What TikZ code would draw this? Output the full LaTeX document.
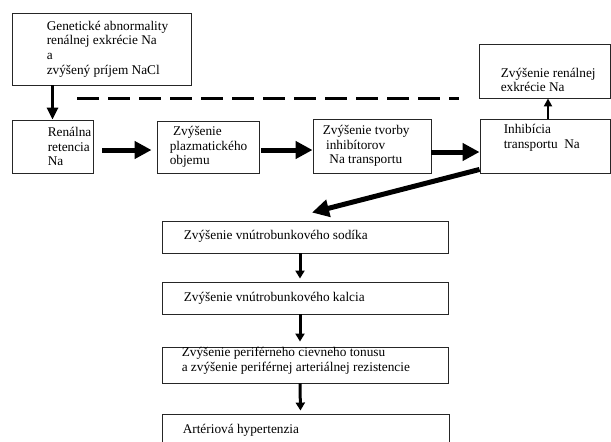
\documentclass[tikz,border=0pt]{standalone}
\usepackage{fontspec}
\setmainfont{Liberation Serif}
\usetikzlibrary{arrows.meta,positioning}

\begin{document}
\begin{tikzpicture}[
    x=1pt, y=-1pt,
    box/.style={draw=black!85, line width=0.9pt, inner sep=0pt},
    txt/.style={font=\fontsize{13.3}{14.7}\selectfont, align=left, inner sep=0pt, anchor=west},
    fat/.style={-{Triangle[length=17pt,width=17pt]}, line width=5pt},
    down/.style={-{Triangle[length=12pt,width=11pt]}, line width=3.5pt},
    drop/.style={-{Triangle[length=8pt,width=9pt]}, line width=3pt},
    slim/.style={-{Triangle[length=8pt,width=8pt]}, line width=2.5pt},
    dashline/.style={line width=3pt, dash pattern=on 22pt off 9pt}
]
\clip (0,0) rectangle (611,442);

% upper part
\node[box, minimum width=179pt, minimum height=72pt] (gen) at (101.5,49) {};
\node[txt] at ([xshift=35pt]gen.west) {Genetické abnormality\\renálnej exkrécie Na\\a\\zvýšený príjem NaCl};
\node[box, minimum width=131pt, minimum height=54pt] (exkr) at (544.5,71) {};
\node[txt] at ([xshift=22pt,yshift=-9pt]exkr.west) {Zvýšenie renálnej\\exkrécie Na};

% row of four boxes
\node[box, minimum width=81pt, minimum height=53pt] (ren) at (52.5,146.5) {};
\node[txt] at ([xshift=36pt]ren.west) {Renálna\\retencia\\Na};
\node[box, minimum width=102pt, minimum height=52pt] (plaz) at (208,147) {};
\node[txt] at ([xshift=13pt]plaz.west) {\ Zvýšenie\\plazmatického\\objemu};
\node[box, minimum width=118pt, minimum height=54pt] (tvor) at (372,146) {};
\node[txt] at ([xshift=10pt]tvor.west) {Zvýšenie tvorby\\\ inhibítorov\\\ \ Na transportu};
\node[box, minimum width=130pt, minimum height=54pt] (inh) at (545,146) {};
\node[txt] at ([xshift=24pt,yshift=8pt]inh.west) {Inhibícia\\transportu\ \ Na};

% column below
\node[box, minimum width=286pt, minimum height=32pt] (sod) at (305,237) {};
\node[txt] at ([xshift=22pt,yshift=1pt]sod.west) {Zvýšenie vnútrobunkového sodíka};
\node[box, minimum width=286pt, minimum height=32pt] (kal) at (305,298) {};
\node[txt] at ([xshift=22pt]kal.west) {Zvýšenie vnútrobunkového kalcia};
\node[box, minimum width=286pt, minimum height=36pt] (ton) at (305,365) {};
\node[txt] at ([xshift=20pt,yshift=4pt]ton.west) {Zvýšenie periférneho cievneho tonusu\\a zvýšenie periférnej arteriálnej rezistencie};
\node[box, minimum width=287pt, minimum height=36pt] (art) at (305.5,432) {};
\node[txt] at ([xshift=21pt,yshift=2pt]art.west) {Artériová hypertenzia};

% arrows
\draw[down] (gen.south -| ren.north) -- (ren.north);
\draw[dashline] ([xshift=24.5pt]ren.north |- exkr.south) -- ([xshift=-20pt]exkr.south west);
\draw[fat, shorten <=9pt, shorten >=5pt] ([yshift=-3.5pt]ren.east) -- ([yshift=-3.5pt]ren.east -| plaz.west);
\draw[fat, shorten <=2pt] ([yshift=-3pt]plaz.east) -- ([yshift=-3pt]plaz.east -| tvor.west);
\draw[fat] ([yshift=-6pt]tvor.east) -- ([yshift=-6pt]tvor.east -| inh.west);
\draw[slim] ([xshift=3pt]inh.north) -- ([xshift=3pt]inh.north |- exkr.south);
\draw[fat] ([yshift=4pt]inh.south west) -- ([xshift=7pt,yshift=8pt]sod.north);
\draw[drop, shorten >=3pt] ([xshift=-5pt]sod.south) -- ([xshift=-5pt]kal.north);
\draw[drop, shorten >=5pt] ([xshift=-5pt]kal.south) -- ([xshift=-5pt]ton.north);
\draw[drop, shorten >=3pt] ([xshift=-5pt]ton.south) -- ([xshift=-5pt]art.north);
\end{tikzpicture}
\end{document}
